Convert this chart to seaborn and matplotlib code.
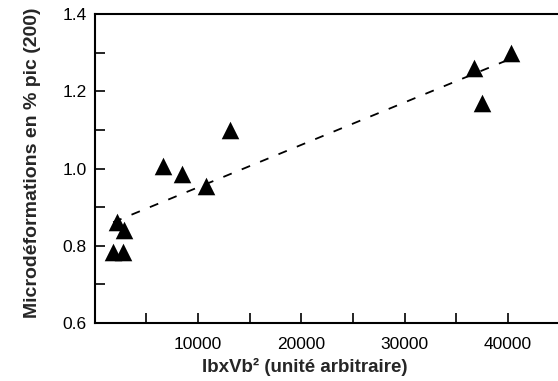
import numpy as np
import pandas as pd
import matplotlib
matplotlib.use("Agg")
import matplotlib.pyplot as plt
import seaborn as sns
from matplotlib.ticker import MultipleLocator, FixedLocator

# data
ibxvb2 = [1770, 2740, 2160, 2840, 6590, 8430, 10760, 13100, 36720, 37500, 40300]
microdef = [0.784, 0.784, 0.862, 0.840, 1.008, 0.987, 0.956, 1.099, 1.260, 1.169, 1.300]

x_ticks = [10000, 20000, 30000, 40000]
y_ticks = [0.6, 0.8, 1.0, 1.2, 1.4]

data = pd.DataFrame({'IbxVb2': ibxvb2, 'Microdef': microdef})

sns.set_style("ticks")
plt.rcParams['font.family'] = ['Liberation Sans', 'DejaVu Sans']

fig = plt.figure(figsize=(5.58, 3.81), dpi=100)
ax = fig.add_axes([0.170, 0.152, 0.830, 0.811])

sns.regplot(x='IbxVb2', y='Microdef', data=data, ax=ax, ci=None, marker='^',
            color='black', scatter_kws={'s': 160, 'linewidths': 0, 'alpha': 1},
            line_kws={'linestyle': (0, (5, 6)), 'linewidth': 1.3, 'color': 'black'})

ax.set_xlim(0, 44850)
ax.set_ylim(0.6, 1.4)
ax.xaxis.set_major_locator(FixedLocator(x_ticks))
ax.xaxis.set_minor_locator(MultipleLocator(5000))
ax.yaxis.set_major_locator(FixedLocator(y_ticks))
ax.yaxis.set_minor_locator(MultipleLocator(0.1))
ax.set_yticklabels([f'{v:.1f}' for v in y_ticks])
ax.tick_params(which='both', direction='in', length=7, width=1.2, labelsize=12.5,
               colors='black')
ax.tick_params(axis='x', pad=10)
ax.tick_params(axis='y', pad=6)

for side in ['left', 'bottom', 'top']:
    ax.spines[side].set_linewidth(1.5)
    ax.spines[side].set_color('black')
ax.spines['right'].set_visible(False)

ax.set_xlabel('IbxVb² (unité arbitraire)', fontsize=13.5, fontweight='bold', labelpad=4)
ax.set_ylabel('Microdéformations en % pic (200)', fontsize=14, fontweight='bold', labelpad=15)
ax.xaxis.label.set_x(0.454)
ax.yaxis.label.set_y(0.52)

fig.savefig('out.png', dpi=100)
